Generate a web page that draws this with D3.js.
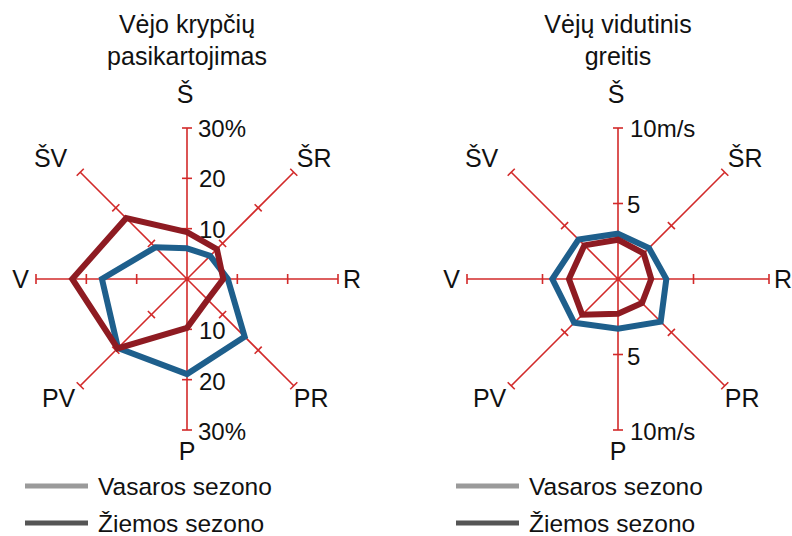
<!DOCTYPE html>
<html>
<head>
<meta charset="utf-8">
<script src="https://cdn.jsdelivr.net/npm/d3@7"></script>
<style>
  body { margin: 0; background: #fff; }
  svg { font-family: "Liberation Sans", Arial, sans-serif; }
</style>
</head>
<body>
<div id="chart"></div>
<script>
// kryptys: Š, ŠR, R, PR, P, PV, V, ŠV (pagal laikrodžio rodyklę nuo šiaurės)
var directions = ["Š", "ŠR", "R", "PR", "P", "PV", "V", "ŠV"];

// vėjo krypčių pasikartojimas, %
var freqSummer = [6.1, 6.5, 8.1, 16.2, 18.9, 19.4, 16.9, 8.9];
var freqWinter = [9.3, 8.4, 7.2, 5.8, 9.7, 19.5, 22.8, 17.1];

// vidutinis greitis, m/s
var speedSummer = [3.0, 2.9, 3.2, 4.0, 3.3, 4.1, 4.35, 3.7];
var speedWinter = [2.6, 2.4, 2.2, 2.25, 2.3, 3.35, 3.25, 3.15];

var freqTicks = [10, 20, 30];
var freqTickLabels = ["10", "20", "30%"];
var speedTicks = [5, 10];
var speedTickLabels = ["5", "10m/s"];

var legendNames = ["Vasaros sezono", "Žiemos sezono"];
var legendColors = ["#9a9a9a", "#555555"];

var summerColor = "#1e5f8c";
var winterColor = "#8e1b22";
var axisColor = "#d22a2a";

var svg = d3.select("#chart").append("svg")
    .attr("width", 792)
    .attr("height", 536);

function rose(cx, cy, title, max, ticks, tickLabels, tickX, summer, winter) {
    var r = d3.scaleLinear().domain([0, max]).range([0, 151]);
    var g = svg.append("g").attr("transform", "translate(" + cx + "," + cy + ")");

    // pavadinimas
    var t = svg.append("text")
        .attr("text-anchor", "middle")
        .style("font-size", "25px")
        .attr("fill", "#111");
    title.forEach(function (line, i) {
        t.append("tspan").attr("x", cx).attr("y", 33 + i * 32).text(line);
    });

    // ašys
    directions.forEach(function (d, i) {
        var a = i * Math.PI / 4;
        var ax = g.append("g").attr("transform", "rotate(" + (i * 45) + ")");
        ax.append("line")
            .attr("x1", 0).attr("y1", 0)
            .attr("x2", 0).attr("y2", -r(max))
            .attr("stroke", axisColor)
            .attr("stroke-width", 1.6);
        ax.selectAll(".tick").data(ticks).enter().append("line")
            .attr("x1", -5).attr("x2", 5)
            .attr("y1", function (v) { return -r(v); })
            .attr("y2", function (v) { return -r(v); })
            .attr("stroke", axisColor)
            .attr("stroke-width", 1.6);

        var ex = Math.sin(a) * r(max), ey = -Math.cos(a) * r(max);
        var lx, ly, anchor = "middle";
        if (i == 0) { lx = ex - 2; ly = ey - 25; }
        else if (i == 4) { lx = ex; ly = ey + 30; }
        else if (i == 2) { lx = ex + 5; ly = ey + 9; anchor = "start"; }
        else if (i == 6) { lx = ex - 7; ly = ey + 9; anchor = "end"; }
        else if (i == 1) { lx = ex + 3; ly = ey - 5; anchor = "start"; }
        else if (i == 7) { lx = ex - 13; ly = ey - 5; anchor = "end"; }
        else if (i == 3) { lx = ex; ly = ey + 21; anchor = "start"; }
        else { lx = ex - 5; ly = ey + 21; anchor = "end"; }
        g.append("text")
            .attr("x", lx)
            .attr("y", ly)
            .attr("text-anchor", anchor)
            .style("font-size", "25px")
            .attr("fill", "#111")
            .text(d);
    });

    g.append("circle").attr("r", 2).attr("fill", axisColor);

    // skalės žymės ant vertikalios ašies
    [-1, 1].forEach(function (s) {
        g.selectAll(null).data(ticks).enter().append("text")
            .attr("x", function (v, i) { return tickX[i]; })
            .attr("y", function (v) { return s * r(v); })
            .attr("dy", s > 0 ? "0.42em" : "0.38em")
            .style("font-size", "24px")
            .attr("fill", "#111")
            .text(function (v, i) { return tickLabels[i]; });
    });

    var line = d3.lineRadial()
        .angle(function (d, i) { return i * Math.PI / 4; })
        .radius(function (d) { return r(d); })
        .curve(d3.curveLinearClosed);

    g.append("path").attr("d", line(summer))
        .attr("fill", "none")
        .attr("stroke", summerColor)
        .attr("stroke-width", 6)
        .attr("stroke-linejoin", "miter");
    g.append("path").attr("d", line(winter))
        .attr("fill", "none")
        .attr("stroke", winterColor)
        .attr("stroke-width", 6)
        .attr("stroke-linejoin", "miter");

    // legenda
    legendNames.forEach(function (n, i) {
        var y = 486 + i * 37;
        var x0 = cx - 162;
        svg.append("line")
            .attr("x1", x0).attr("x2", x0 + 63)
            .attr("y1", y).attr("y2", y)
            .attr("stroke", legendColors[i])
            .attr("stroke-width", 5);
        svg.append("text")
            .attr("x", x0 + 73)
            .attr("y", y)
            .attr("dy", "0.36em")
            .style("font-size", "24.5px")
            .attr("fill", "#111")
            .text(n);
    });
}

rose(187, 279, ["Vėjo krypčių", "pasikartojimas"], 30, freqTicks, freqTickLabels, [12, 12, 11], freqSummer, freqWinter);
rose(618, 279, ["Vėjų vidutinis", "greitis"], 10, speedTicks, speedTickLabels, [9, 12], speedSummer, speedWinter);
</script>
</body>
</html>
